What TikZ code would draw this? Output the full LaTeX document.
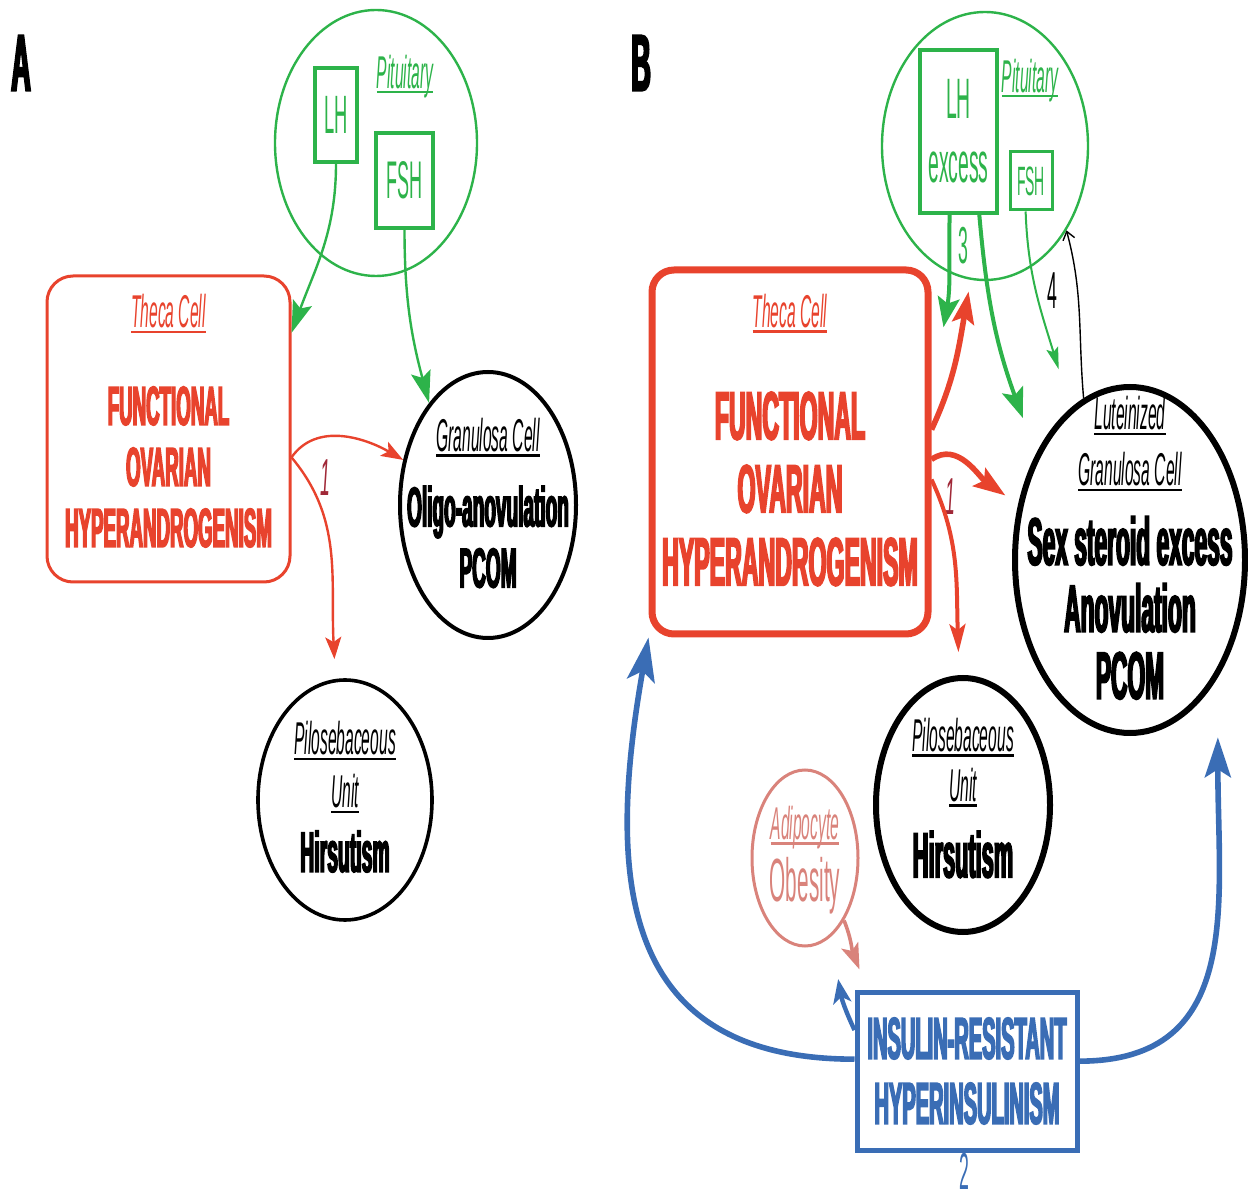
\documentclass[tikz,border=0pt]{standalone}
\usepackage{amsmath}
\usepackage{fontspec}
\setmainfont[FakeStretch=0.34, BoldFeatures={FakeBold=2.5}]{Liberation Sans}
\usepackage{tikz}
\usetikzlibrary{arrows,arrows.meta,shapes,positioning}
\usepackage{xcolor}
\definecolor{ovred}{RGB}{232,67,45}
\definecolor{pitgreen}{RGB}{45,179,74}
\definecolor{insblue}{RGB}{58,109,181}
\definecolor{adipink}{RGB}{217,131,123}
\definecolor{numred}{RGB}{160,40,55}
\setlength{\lineskiplimit}{-100pt}
\newcommand{\fsz}[2]{\fontsize{#1}{#2}\selectfont}
\newcommand{\ulab}[1]{{\normalfont\fsz{23}{26}\itshape\setbox0\hbox{#1}\dp0=0pt\rlap{\rule[-2.6pt]{\wd0}{1.2pt}}\box0}}
\tikzstyle{gland} = [ellipse, draw=pitgreen, line width=1.2pt, inner sep=0pt]
\tikzstyle{hormone} = [rectangle, draw=pitgreen, text=pitgreen, line width=1.8pt, inner sep=0pt, align=center]
\tikzstyle{thecabox} = [rectangle, rounded corners=12pt, draw=ovred, inner sep=0pt]
\tikzstyle{cell} = [ellipse, draw=black, inner sep=0pt]
\tikzstyle{celltext} = [align=center, inner sep=0pt]
\tikzstyle{panel} = [font=\fsz{40}{40}\bfseries, inner sep=0pt]
\tikzstyle{pathno} = [font=\fsz{26}{26}, inner sep=0pt]
\tikzstyle{greenarrow} = [draw=pitgreen, line width=1.2pt, -{Stealth[length=16pt,width=10pt,inset=3pt]}]
\tikzstyle{redarrow} = [draw=ovred, line width=1.2pt, -{Stealth[length=11pt,width=8pt,inset=2.5pt]}]
\tikzstyle{bluearrow} = [draw=insblue, line width=2.8pt, -{Stealth[length=20pt,width=13pt,inset=4pt]}]

\begin{document}
\begin{tikzpicture}[x=0.5pt, y=-0.5pt]
\useasboundingbox (0,0) rectangle (1248,1202);

% Panel A
\node[panel] (labA) at (21,63) {A};
\node[gland, minimum width=101pt, minimum height=133pt] (pitA) at (376,143) {};
\node[text=pitgreen, inner sep=0pt] (pitAname) at (405,74) {\ulab{Pituitary}};
\node[hormone, minimum width=21pt, minimum height=47pt, font=\fsz{27}{27}] (lhA) at (336,115) {LH};
\node[hormone, minimum width=28.5pt, minimum height=47.5pt, font=\fsz{26.5}{27}] (fshA) at (404.5,180.5) {FSH};

\node[thecabox, line width=1.5pt, minimum width=121.5pt, minimum height=153pt, rounded corners=13pt] (thecaA) at (168.5,429) {};
\node[celltext, text=ovred, font=\fsz{27.5}{30.5}\bfseries] (thecaAtext) at (168.5,421) {\ulab{Theca Cell}\\[18pt] FUNCTIONAL\\ OVARIAN\\ HYPERANDROGENISM};

\node[cell, line width=2pt, minimum width=88pt, minimum height=133pt] (granA) at (488,505) {};
\node[celltext, font=\fsz{28}{30.5}\bfseries] (granAtext) at (488,503) {\ulab{Granulosa Cell}\\[7pt] Oligo-anovulation\\ PCOM};

\node[cell, line width=1.8pt, minimum width=87pt, minimum height=120pt] (pilA) at (345,800) {};
\node[celltext, font=\fsz{28.5}{26.5}\bfseries] (pilAtext) at (345,797) {\ulab{Pilosebaceous}\\ \ulab{Unit}\\[5.5pt] Hirsutism};

\node[pathno, text=numred] (oneA) at (325,478) {\itshape 1};

% arrows A
\draw[greenarrow] (lhA.south) to[out=-90, in=70] (thecaA.38);
\draw[greenarrow] (fshA.south) to[out=-90, in=105] (granA.120);
\draw[redarrow] (thecaA.-13) to[out=55, in=150] (granA.152);
\draw[redarrow] (thecaA.-13) to[out=-50, in=93] ([yshift=10pt]pilA.95);

% Panel B
\node[panel] (labB) at (641,63) {B};
\node[gland, minimum width=103pt, minimum height=134pt] (pitB) at (985,146) {};
\node[text=pitgreen, inner sep=0pt] (pitBname) at (1030,78) {\ulab{Pituitary}};
\node[hormone, line width=2pt, minimum width=38.5pt, minimum height=81.5pt, font=\fsz{28.5}{32}] (lhB) at (958.5,131.5) {LH\\ excess};
\node[hormone, line width=1.5pt, minimum width=21pt, minimum height=29pt, font=\fsz{20.5}{21}] (fshB) at (1031,181) {FSH};
\node[pathno, text=pitgreen] (threeB) at (963,246) {3};
\node[pathno] (fourB) at (1052,291) {4};

\node[thecabox, line width=3.5pt, minimum width=138pt, minimum height=182pt, rounded corners=11pt] (thecaB) at (790,452) {};
\node[celltext, text=ovred, font=\fsz{34}{36.5}\bfseries] (thecaBtext) at (790,440) {\ulab{Theca Cell}\\[19.5pt] FUNCTIONAL\\ OVARIAN\\ HYPERANDROGENISM};

\node[cell, line width=3pt, minimum width=115pt, minimum height=173pt] (granB) at (1130,560) {};
\node[celltext, font=\fsz{33.5}{33.5}\bfseries] (granBtext) at (1130,548) {\ulab{Luteinized}\\[-5.5pt] \ulab{Granulosa Cell}\\[6pt] Sex steroid excess\\ Anovulation\\ PCOM};

\node[cell, line width=3pt, minimum width=87pt, minimum height=127pt] (pilB) at (963,805) {};
\node[celltext, font=\fsz{32}{25}\bfseries] (pilBtext) at (963,798) {\ulab{Pilosebaceous}\\ \ulab{Unit}\\[13pt] Hirsutism};

\node[cell, draw=adipink, line width=1.5pt, minimum width=53pt, minimum height=88pt] (adip) at (805,858) {};
\node[celltext, text=adipink, font=\fsz{30.5}{31}] (adiptext) at (805,860) {\ulab{Adipocyte}\\ Obesity};

\node[rectangle, draw=insblue, text=insblue, line width=2.5pt, minimum width=110pt, minimum height=79pt, align=center, font=\fsz{29.5}{32.5}\bfseries] (insB) at (967,1071) {INSULIN-RESISTANT\\ HYPERINSULINISM};
\node[pathno, text=insblue] (twoB) at (964,1171) {2};
\node[pathno, text=numred] (oneB) at (950,497) {\itshape 1};

% arrows B
\draw[greenarrow, line width=2pt, -{Stealth[length=15pt,width=11pt,inset=3pt]}] (lhB.-96) to[out=-92, in=80] ([xshift=6pt,yshift=3pt]thecaB.40);
\draw[greenarrow, line width=2pt, -{Stealth[length=15pt,width=11pt,inset=3pt]}] (lhB.-76) to[out=-85, in=110] ([xshift=-9.5pt,yshift=12.5pt]granB.127);
\draw[greenarrow, line width=1pt, -{Stealth[length=11pt,width=6pt,inset=2pt]}] (fshB.-100) to[out=-88, in=107] ([xshift=-7.5pt,yshift=18pt]granB.110);
\draw[line width=0.7pt, -{Straight Barb[length=4pt,width=6pt]}] (granB.106) to[out=95, in=-75] (pitB.-46);
\draw[redarrow, line width=2.8pt, -{Stealth[length=16pt,width=11pt,inset=3pt]}] (thecaB.9) to[out=65, in=-100] ([yshift=-6pt]pitB.-97);
\draw[redarrow, line width=2.8pt, -{Stealth[length=16pt,width=11pt,inset=3pt]}] (thecaB.-3) to[out=35, in=145] ([xshift=-6pt,yshift=6pt]granB.155);
\draw[redarrow, line width=2pt, -{Stealth[length=14pt,width=8pt,inset=3pt]}] (thecaB.-11) to[out=-65, in=92] ([yshift=11.5pt]pilB.92);
\draw[bluearrow, -{Stealth[length=22pt,width=14pt,inset=5pt]}] (insB.174) to[out=180, in=-100, looseness=1.3] (thecaB.south west);
\draw[bluearrow, line width=2.2pt, -{Stealth[length=12pt,width=9pt,inset=3pt]}] (insB.160) to[out=115, in=-80] ([yshift=-25pt]adip.-65);
\draw[bluearrow] (insB.5) to[out=0, in=-90, looseness=1.2] ([xshift=-7.5pt,yshift=-45.5pt]granB.-40);
\draw[draw=adipink, line width=1.8pt, -{Stealth[length=13pt,width=9pt,inset=3pt]}] (adip.-58) to[out=-68, in=112] ([xshift=2.5pt,yshift=10pt]insB.north west);
\end{tikzpicture}
\end{document}
